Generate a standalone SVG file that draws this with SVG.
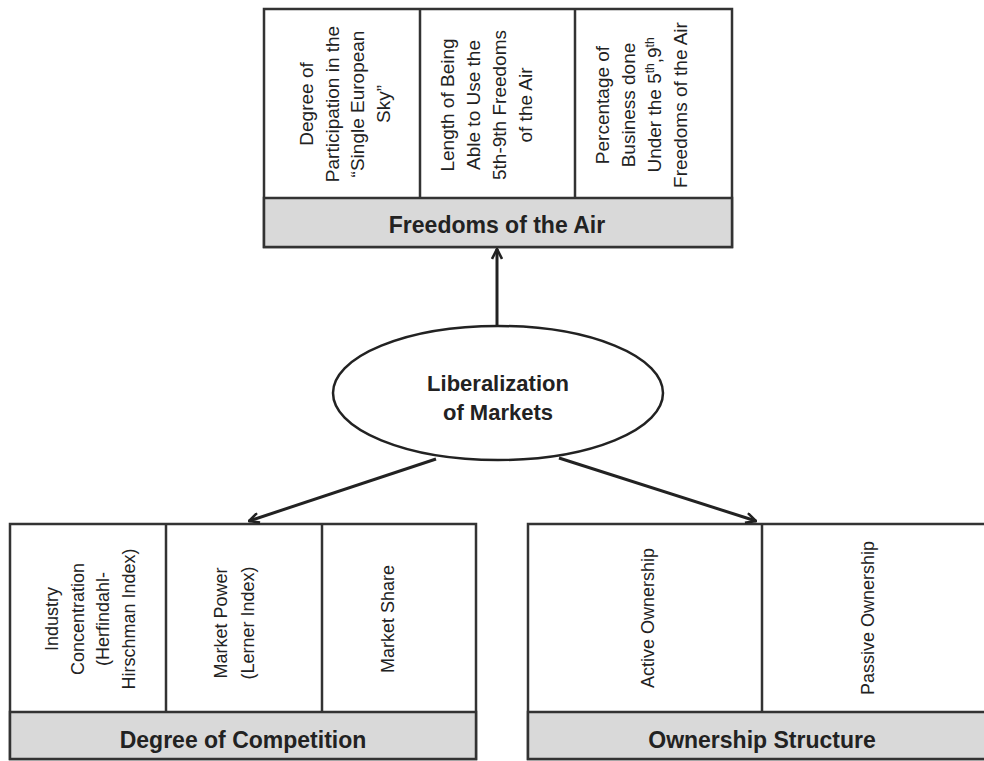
<svg xmlns="http://www.w3.org/2000/svg" width="984" height="761" viewBox="0 0 984 761">
<defs>
<marker id="arr" viewBox="0 0 12 12" refX="11" refY="6" markerWidth="12" markerHeight="12" orient="auto" markerUnits="userSpaceOnUse">
<path d="M1,1 L11,6 L1,11" fill="none" stroke="#222" stroke-width="2.6" stroke-linejoin="miter"/>
</marker>
<style>
.box{fill:#fff;stroke:#333;stroke-width:2.5}
.band{fill:#d9d9d9;stroke:#333;stroke-width:2.5}
.div{stroke:#333;stroke-width:2.5}
.col{font-family:"Liberation Sans",Arial,sans-serif;fill:#222;text-anchor:middle}
.top{font-size:19px}
.bot{font-size:18px}
.title{font-family:"Liberation Sans",Arial,sans-serif;font-weight:bold;font-size:23px;fill:#222;text-anchor:middle}
.ell{font-family:"Liberation Sans",Arial,sans-serif;font-weight:bold;font-size:22px;fill:#222;text-anchor:middle}
.conn{stroke:#222;stroke-width:3;fill:none;marker-end:url(#arr)}
</style>
</defs>
<rect width="984" height="761" fill="#fff"/>

<g id="freedoms">
<rect class="box" x="264" y="9" width="468" height="238"/>
<rect class="band" x="264" y="198" width="468" height="49"/>
<line class="div" x1="420" y1="9" x2="420" y2="198"/>
<line class="div" x1="575" y1="9" x2="575" y2="198"/>
<text class="col top" transform="translate(313,104) rotate(-90)"><tspan x="0" y="0">Degree of</tspan><tspan x="0" y="25.5">Participation in the</tspan><tspan x="0" y="51">“Single European</tspan><tspan x="0" y="76.5">Sky”</tspan></text>
<text class="col top" transform="translate(454,105) rotate(-90)"><tspan x="0" y="0">Length of Being</tspan><tspan x="0" y="26">Able to Use the</tspan><tspan x="0" y="52">5th-9th Freedoms</tspan><tspan x="0" y="78">of the Air</tspan></text>
<text class="col top" transform="translate(609,105) rotate(-90)"><tspan x="0" y="0">Percentage of</tspan><tspan x="0" y="26">Business done</tspan><tspan x="0" y="52">Under the 5<tspan font-size="12" baseline-shift="super">th</tspan>,9<tspan font-size="12" baseline-shift="super">th</tspan></tspan><tspan x="0" y="78">Freedoms of the Air</tspan></text>
<text class="title" x="497" y="233">Freedoms of the Air</text>
</g>

<g id="liberalization">
<ellipse cx="498" cy="393" rx="165" ry="67" fill="#fff" stroke="#222" stroke-width="2.5"/>
<text class="ell" x="498" y="391">Liberalization</text>
<text class="ell" x="498" y="420">of Markets</text>
</g>

<g id="competition">
<rect class="box" x="10" y="524" width="466" height="235"/>
<rect class="band" x="10" y="712" width="466" height="47"/>
<line class="div" x1="166" y1="524" x2="166" y2="712"/>
<line class="div" x1="322" y1="524" x2="322" y2="712"/>
<text class="col bot" transform="translate(58,619) rotate(-90)"><tspan x="0" y="0">Industry</tspan><tspan x="0" y="25.5">Concentration</tspan><tspan x="0" y="51">(Herfindahl-</tspan><tspan x="0" y="76.5">Hirschman Index)</tspan></text>
<text class="col bot" transform="translate(227,623) rotate(-90)"><tspan x="0" y="0">Market Power</tspan><tspan x="0" y="27">(Lerner Index)</tspan></text>
<text class="col bot" transform="translate(394,619) rotate(-90)">Market Share</text>
<text class="title" x="243" y="748">Degree of Competition</text>
</g>

<g id="ownership">
<rect class="box" x="528" y="524" width="470" height="235"/>
<rect class="band" x="528" y="712" width="470" height="47"/>
<line class="div" x1="762" y1="524" x2="762" y2="712"/>
<text class="col bot" transform="translate(654,618) rotate(-90)">Active Ownership</text>
<text class="col bot" transform="translate(874,618) rotate(-90)">Passive Ownership</text>
<text class="title" x="762" y="748">Ownership Structure</text>
</g>

<g id="connectors">
<line class="conn" x1="497" y1="326" x2="497" y2="249"/>
<line class="conn" x1="436" y1="459" x2="249" y2="521"/>
<line class="conn" x1="559" y1="458" x2="756" y2="521"/>
</g>
</svg>
